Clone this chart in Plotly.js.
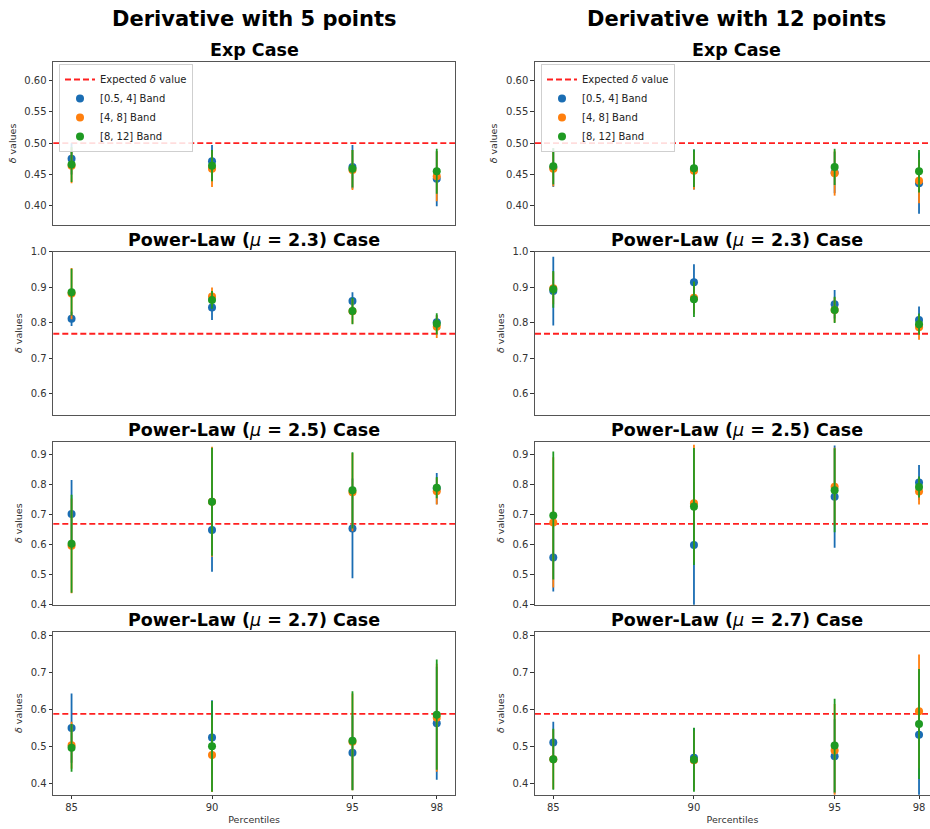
<!DOCTYPE html>
<html>
<head>
<meta charset="utf-8">
<script src="https://cdn.plot.ly/plotly-3.0.1.min.js"></script>
<style>html,body{margin:0;padding:0;background:#fff;}</style>
</head>
<body>
<div id="chart" style="width:930px;height:829px;"></div>
<script>
// ---------- data ----------
const percentiles = [85, 90, 95, 98];
const bandNames = ['[0.5, 4] Band', '[4, 8] Band', '[8, 12] Band'];
const columnTitles = ['Derivative with 5 points', 'Derivative with 12 points'];
const MU = '<i><span style="font-weight:normal">μ</span></i>';
const caseTitles = ['Exp Case', 'Power-Law (' + MU + ' = 2.3) Case', 'Power-Law (' + MU + ' = 2.5) Case', 'Power-Law (' + MU + ' = 2.7) Case'];
const expectedDelta = [0.5, 0.769, 0.667, 0.588];

// 5-point derivative: rows = bands [0.5,4], [4,8], [8,12]; columns = percentiles
const d5_exp_mean = [[0.475, 0.471, 0.462, 0.443], [0.464, 0.459, 0.457, 0.447], [0.466, 0.464, 0.459, 0.455]];
const d5_exp_err  = [[0.025, 0.026, 0.035, 0.044], [0.028, 0.029, 0.032, 0.040], [0.028, 0.025, 0.030, 0.036]];
const d5_pl23_mean = [[0.811, 0.843, 0.861, 0.801], [0.882, 0.874, 0.832, 0.789], [0.886, 0.864, 0.833, 0.797]];
const d5_pl23_err  = [[0.020, 0.035, 0.025, 0.020], [0.072, 0.025, 0.035, 0.032], [0.066, 0.025, 0.037, 0.030]];
const d5_pl25_mean = [[0.700, 0.647, 0.652, 0.785], [0.594, 0.741, 0.773, 0.776], [0.601, 0.741, 0.779, 0.788]];
const d5_pl25_err  = [[0.113, 0.139, 0.166, 0.052], [0.158, 0.183, 0.130, 0.044], [0.163, 0.180, 0.127, 0.035]];
const d5_pl27_mean = [[0.550, 0.525, 0.484, 0.563], [0.504, 0.478, 0.513, 0.578], [0.497, 0.501, 0.516, 0.586]];
const d5_pl27_err  = [[0.093, 0.100, 0.100, 0.152], [0.063, 0.100, 0.130, 0.145], [0.064, 0.122, 0.133, 0.148]];

// 12-point derivative
const d12_exp_mean = [[0.461, 0.458, 0.453, 0.436], [0.459, 0.456, 0.452, 0.440], [0.463, 0.460, 0.462, 0.455]];
const d12_exp_err  = [[0.031, 0.032, 0.033, 0.049], [0.028, 0.030, 0.036, 0.036], [0.029, 0.030, 0.029, 0.034]];
const d12_pl23_mean = [[0.889, 0.914, 0.852, 0.808], [0.897, 0.870, 0.836, 0.787], [0.894, 0.866, 0.836, 0.796]];
const d12_pl23_err  = [[0.097, 0.051, 0.040, 0.038], [0.045, 0.045, 0.035, 0.035], [0.052, 0.050, 0.037, 0.030]];
const d12_pl25_mean = [[0.555, 0.597, 0.758, 0.805], [0.672, 0.736, 0.791, 0.775], [0.695, 0.725, 0.779, 0.790]];
const d12_pl25_err  = [[0.113, 0.210, 0.170, 0.058], [0.217, 0.195, 0.130, 0.043], [0.213, 0.195, 0.140, 0.035]];
const d12_pl27_mean = [[0.511, 0.470, 0.474, 0.532], [0.466, 0.463, 0.490, 0.595], [0.466, 0.465, 0.503, 0.561]];
const d12_pl27_err  = [[0.056, 0.080, 0.100, 0.170], [0.080, 0.080, 0.125, 0.153], [0.082, 0.086, 0.126, 0.148]];

// ---------- styling ----------
const bandColors = ['#1a6db3', '#ff7f0e', '#1f9a22'];
const FONT = 'DejaVu Sans, sans-serif';
const panels = [
  [[d5_exp_mean, d5_exp_err], [d12_exp_mean, d12_exp_err]],
  [[d5_pl23_mean, d5_pl23_err], [d12_pl23_mean, d12_pl23_err]],
  [[d5_pl25_mean, d5_pl25_err], [d12_pl25_mean, d12_pl25_err]],
  [[d5_pl27_mean, d5_pl27_err], [d12_pl27_mean, d12_pl27_err]]
];
const W = 930, H = 829;
const xDomains = [[53.3 / W, 455 / W], [535 / W, 1]];
const xRanges = [[84.35, 98.65], [84.35, 98.39]];
const rowPx = [[62, 225], [251.7, 414.7], [441.7, 604.7], [631.7, 794.7]];
const yDomains = rowPx.map(p => [1 - p[1] / H, 1 - p[0] / H]);
const yRanges = [[0.369, 0.630], [0.541, 1.0], [0.398, 0.941], [0.371, 0.809]];
const yDtick = [0.05, 0.1, 0.1, 0.1];
const yFmt = ['.2f', '.1f', '.1f', '.1f'];

const traces = [];
const layout = {
  width: W, height: H,
  margin: {l: 0, r: 0, t: 0, b: 0},
  paper_bgcolor: '#fff', plot_bgcolor: '#fff',
  font: {family: FONT, color: '#222', size: 10},
  showlegend: true,
  shapes: [], annotations: []
};

for (let r = 0; r < 4; r++) {
  for (let c = 0; c < 2; c++) {
    const i = r * 2 + c + 1;
    const xa = 'x' + i, ya = 'y' + i;
    const legendId = c === 0 ? 'legend' : 'legend2';
    const [means, errs] = panels[r][c];
    if (r === 0) {
      traces.push({
        x: [null], y: [null], xaxis: xa, yaxis: ya, type: 'scatter', mode: 'lines',
        name: 'Expected <i>δ</i> value', legend: legendId, showlegend: true,
        line: {color: '#ff2020', width: 1.8, dash: '6px,3px'}, hoverinfo: 'skip'
      });
    }
    for (let b = 0; b < 3; b++) {
      traces.push({
        x: percentiles, y: means[b], xaxis: xa, yaxis: ya, type: 'scatter', mode: 'markers',
        name: bandNames[b], legend: legendId, showlegend: r === 0,
        marker: {color: bandColors[b], size: 8},
        error_y: {type: 'data', array: errs[b], visible: true, color: bandColors[b], thickness: 1.8, width: 0}
      });
    }
    layout['xaxis' + i] = {
      domain: xDomains[c], range: xRanges[c], anchor: ya,
      tickmode: 'array', tickvals: percentiles, ticktext: percentiles.map(String),
      showticklabels: r === 3, ticks: r === 3 ? 'outside' : '', ticklen: 3.5, tickwidth: 1, tickcolor: '#333',
      tickfont: {family: FONT, size: 10, color: '#333'},
      showline: true, linecolor: '#555', linewidth: 1.2, mirror: true,
      showgrid: false, zeroline: false,
      title: r === 3 ? {text: 'Percentiles', font: {family: FONT, size: 9.5, color: '#333'}, standoff: 4} : {text: ''}
    };
    layout['yaxis' + i] = {
      domain: yDomains[r], range: yRanges[r], anchor: xa,
      dtick: yDtick[r], tick0: 0, tickformat: yFmt[r],
      ticks: 'outside', ticklen: 3.5, tickwidth: 1, tickcolor: '#333',
      tickfont: {family: FONT, size: 10, color: '#333'},
      showline: true, linecolor: '#555', linewidth: 1.2, mirror: c === 0,
      showgrid: false, zeroline: false,
      title: {text: '<i>δ</i> values', font: {family: FONT, size: 9.5, color: '#333'}, standoff: 6}
    };
    layout.shapes.push({
      type: 'line', xref: xa + ' domain', yref: ya, x0: 0, x1: 1,
      y0: expectedDelta[r], y1: expectedDelta[r], layer: 'below',
      line: {color: '#ff2020', width: 1.8, dash: '6px,3px'}
    });
    // panel title
    const centerPx = c === 0 ? 254 : 736.5;
    layout.annotations.push({
      text: '<b>' + caseTitles[r] + '</b>', xref: 'paper', yref: 'paper',
      x: centerPx / W, y: 1 - (rowPx[r][0] - 12) / H, xanchor: 'center', yanchor: 'middle',
      showarrow: false, font: {family: FONT, size: 17.5, color: '#000'}
    });
  }
}
columnTitles.forEach((t, c) => {
  const centerPx = c === 0 ? 255 : 736.5;
  layout.annotations.push({
    text: '<b>' + t + '</b>', xref: 'paper', yref: 'paper',
    x: centerPx / W, y: 1 - 19 / H, xanchor: 'center', yanchor: 'middle',
    showarrow: false, font: {family: FONT, size: 21, color: '#000'}
  });
});
const legendStyle = {
  xanchor: 'left', yanchor: 'top', bgcolor: 'rgba(255,255,255,0.85)',
  bordercolor: '#cfcfcf', borderwidth: 1, font: {family: FONT, size: 10, color: '#222'},
  itemwidth: 30, tracegroupgap: 0
};
layout.legend = Object.assign({x: 59 / W, y: 1 - 64 / H}, legendStyle);
layout.legend2 = Object.assign({x: 541 / W, y: 1 - 64 / H}, legendStyle);

Plotly.newPlot('chart', traces, layout, {displayModeBar: false, staticPlot: true});
</script>
</body>
</html>
